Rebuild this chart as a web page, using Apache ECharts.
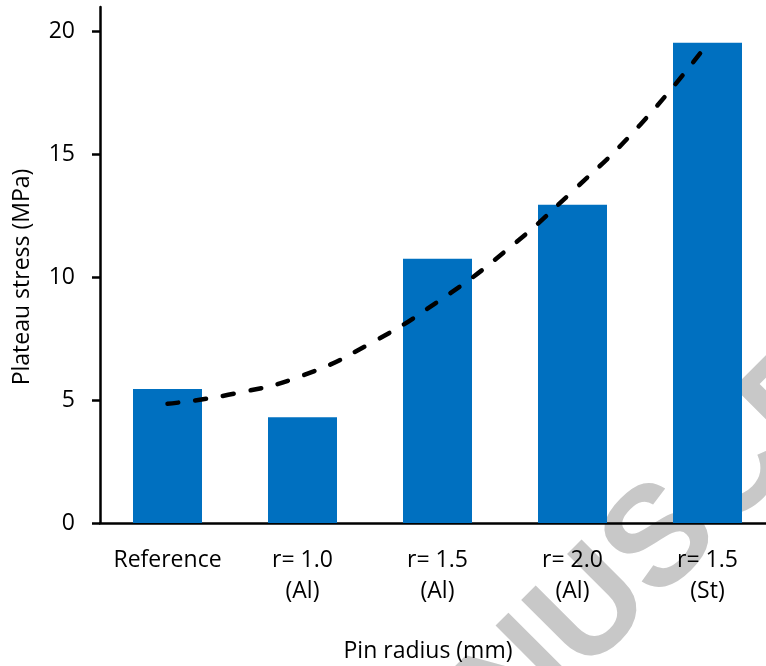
<!DOCTYPE html>
<html>
<head>
<meta charset="utf-8">
<script src="https://cdn.jsdelivr.net/npm/echarts@6/dist/echarts.min.js"></script>
<style>
  html, body { margin: 0; padding: 0; background: #ffffff; }
  #chart { width: 766px; height: 666px; }
</style>
</head>
<body>
<div id="chart"></div>
<script>
// Pin configurations along the x axis
const categories = ['Reference', 'r= 1.0\n(Al)', 'r= 1.5\n(Al)', 'r= 2.0\n(Al)', 'r= 1.5\n(St)'];
// Plateau stress per configuration (MPa)
const plateauStress = [5.45, 4.3, 10.75, 12.95, 19.55];
// Dashed trend curve, sampled at category positions (1 = first category)
const trendX = [1, 1.5, 2, 2.5, 3, 3.5, 4, 4.5, 5];
const trendY = [4.85, 5.27, 6.0, 7.3, 9.0, 11.05, 13.5, 16.2, 19.5];
// Y axis ticks
const yTicks = [0, 5, 10, 15, 20];

const FONT = '"Open Sans", "DejaVu Sans", sans-serif';
const chart = echarts.init(document.getElementById('chart'), null, { renderer: 'canvas' });

chart.setOption({
  animation: false,
  backgroundColor: '#ffffff',
  textStyle: { fontFamily: FONT, color: '#000' },
  graphic: [{
    type: 'text',
    x: 328, y: 876,
    rotation: Math.PI / 4,
    z: -10,
    silent: true,
    style: {
      text: 'MANUSCRIPT',
      font: 'bold 142px "Liberation Sans", Arial, sans-serif',
      fill: '#c8c8c8',
      textAlign: 'left',
      textVerticalAlign: 'middle'
    }
  }],
  grid: { left: 100, width: 675, top: 7, height: 516, containLabel: false, outerBoundsMode: 'none' },
  xAxis: [{
    type: 'category',
    data: categories,
    axisLine: { lineStyle: { color: '#000', width: 2.5 } },
    axisTick: { show: false },
    axisLabel: { fontFamily: FONT, fontSize: 23, color: '#000', lineHeight: 31, margin: 22, interval: 0 },
    splitLine: { show: false },
    name: 'Pin radius (mm)',
    nameLocation: 'middle',
    nameGap: 114,
    nameTextStyle: { fontFamily: FONT, fontSize: 23, color: '#000', lineHeight: 28, padding: [0, 19, 0, 0] }
  }, {
    type: 'value',
    min: 0.5,
    max: 5.5,
    show: false
  }],
  yAxis: {
    type: 'value',
    min: 0,
    max: 21,
    interval: 5,
    axisLine: { show: true, lineStyle: { color: '#000', width: 2.5 } },
    axisTick: { show: true, length: 8, lineStyle: { color: '#000', width: 2.5 }, customValues: yTicks },
    axisLabel: { fontFamily: FONT, fontSize: 23, color: '#000', margin: 25, customValues: yTicks },
    splitLine: { show: false },
    name: 'Plateau stress (MPa)',
    nameLocation: 'middle',
    nameGap: 64,
    nameTextStyle: { fontFamily: FONT, fontSize: 23, color: '#000', lineHeight: 28, padding: [0, 24, 0, 0] }
  },
  series: [{
    type: 'bar',
    data: plateauStress,
    barWidth: 69,
    itemStyle: { color: '#0070C0' },
    z: 2
  }, {
    type: 'line',
    xAxisIndex: 1,
    data: trendX.map((x, i) => [x, trendY[i]]),
    smooth: true,
    symbol: 'none',
    lineStyle: { color: '#000', width: 4.5, type: [11, 17], cap: 'round' },
    z: 3
  }]
});
</script>
</body>
</html>
